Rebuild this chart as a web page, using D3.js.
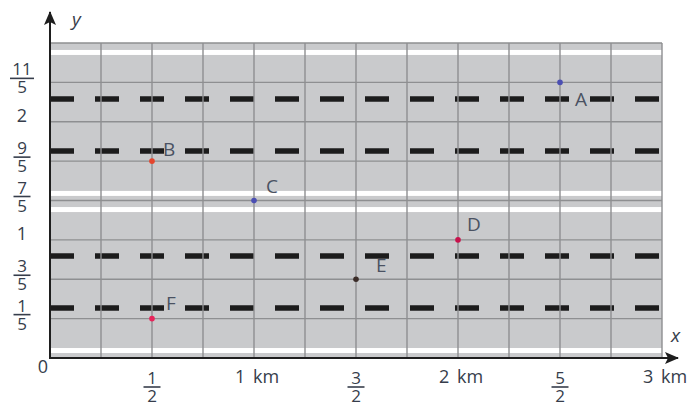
<!DOCTYPE html>
<html>
<head>
<meta charset="utf-8">
<script src="https://cdn.jsdelivr.net/npm/d3@7"></script>
<style>
  body { margin: 0; background: #fff; }
  text { font-family: "Open Sans", sans-serif; }
</style>
</head>
<body>
<div id="chart"></div>
<script>
// tick values and labels
const xTickValues = [0.5, 1, 1.5, 2, 2.5, 3];
const xTickLabels = ["1/2", "1 km", "3/2", "2 km", "5/2", "3 km"];
const yTickValues = [0.2, 0.6, 1, 1.4, 1.8, 2, 2.2];
const yTickLabels = ["1/5", "3/5", "1", "7/5", "9/5", "2", "11/5"];

// points
const pointNames = ["A", "B", "C", "D", "E", "F"];
const pointX = [2.5, 0.5, 1, 2, 1.5, 0.5];
const pointY = [2.2, 1.8, 1.4, 1, 0.6, 0.2];

// road decoration, in grid rows (0 = x axis, 8 = top edge)
const whiteStripeRows = [7.76, 4.18, 3.77, 0.19];
const laneLineRows = [6.58, 5.26, 2.59, 1.27];

let width = 693, height = 408;
let plot = {left: 50, right: 662, top: 43, bottom: 358};
let nRows = 8;

let svg = d3.select("#chart").append("svg")
    .attr("width", width)
    .attr("height", height);

let x = d3.scaleLinear().domain([0, 3]).range([plot.left, plot.right]);
let row = d3.scaleLinear().domain([0, nRows]).range([plot.bottom, plot.top]);
// uneven labels sit on evenly spaced grid lines
let y = d3.scaleLinear()
    .domain([0, ...yTickValues, 2.4])
    .range(d3.range(nRows + 1).map(i => row(i)));

let textColor = "#363d4b";
let gridColor = "#8e8f91";

// grey background
svg.append("rect")
    .attr("x", plot.left).attr("y", plot.top)
    .attr("width", plot.right - plot.left).attr("height", plot.bottom - plot.top)
    .attr("fill", "#c9cacc");

// white road edges
svg.selectAll(".stripe")
    .data(whiteStripeRows)
    .enter().append("rect")
    .attr("class", "stripe")
    .attr("x", plot.left + 1)
    .attr("y", d => row(d) - 2.5)
    .attr("width", plot.right - plot.left - 1)
    .attr("height", 5)
    .attr("fill", "#fff");

// dashed lane lines
svg.selectAll(".lane")
    .data(laneLineRows)
    .enter().append("line")
    .attr("class", "lane")
    .attr("x1", plot.left).attr("x2", plot.right)
    .attr("y1", d => row(d)).attr("y2", d => row(d))
    .attr("stroke", "#1c1c1c")
    .attr("stroke-width", 5.5)
    .attr("stroke-dasharray", "24,21");

// grid
let grid = svg.append("g").attr("stroke", gridColor).attr("stroke-width", 1.4);
grid.selectAll(".vgrid")
    .data(d3.range(1, 13).map(i => i * 0.25))
    .enter().append("line")
    .attr("x1", d => x(d)).attr("x2", d => x(d))
    .attr("y1", plot.top).attr("y2", plot.bottom);
grid.selectAll(".hgrid")
    .data(d3.range(1, nRows + 1))
    .enter().append("line")
    .attr("x1", plot.left).attr("x2", plot.right)
    .attr("y1", d => row(d)).attr("y2", d => row(d));

// axes with arrows
svg.append("defs").append("marker")
    .attr("id", "arrow")
    .attr("viewBox", "0 0 14 12")
    .attr("refX", 13).attr("refY", 6)
    .attr("markerWidth", 14).attr("markerHeight", 12)
    .attr("markerUnits", "userSpaceOnUse")
    .attr("orient", "auto")
    .append("path")
    .attr("d", "M0,0 L14,6 L0,12 L3,6 Z")
    .attr("fill", "#1e1e1e");

svg.append("line")
    .attr("x1", plot.left).attr("y1", plot.bottom)
    .attr("x2", plot.left).attr("y2", 12)
    .attr("stroke", "#1e1e1e").attr("stroke-width", 2)
    .attr("marker-end", "url(#arrow)");
svg.append("line")
    .attr("x1", plot.left - 1).attr("y1", plot.bottom)
    .attr("x2", 678).attr("y2", plot.bottom)
    .attr("stroke", "#1e1e1e").attr("stroke-width", 2)
    .attr("marker-end", "url(#arrow)");

svg.append("text")
    .attr("x", 72).attr("y", 26)
    .attr("font-size", 19).attr("font-style", "italic")
    .attr("fill", textColor)
    .text("y");
svg.append("text")
    .attr("x", 671).attr("y", 342)
    .attr("font-size", 19).attr("font-style", "italic")
    .attr("fill", textColor)
    .text("x");
svg.append("text")
    .attr("x", 43).attr("y", 373)
    .attr("text-anchor", "middle")
    .attr("font-size", 18)
    .attr("fill", textColor)
    .text("0");

// draw a label, as a stacked fraction when it has a slash
function drawLabel(g, label, cx, barY, baseY) {
    if (label.includes("/")) {
        let parts = label.split("/");
        let w = parts[0].length > 1 ? 24 : 17;
        g.append("text")
            .attr("x", cx).attr("y", barY - 3)
            .attr("text-anchor", "middle")
            .attr("font-size", 17).attr("fill", textColor)
            .text(parts[0]);
        g.append("line")
            .attr("x1", cx - w / 2).attr("x2", cx + w / 2)
            .attr("y1", barY).attr("y2", barY)
            .attr("stroke", textColor).attr("stroke-width", 1.6);
        g.append("text")
            .attr("x", cx).attr("y", barY + 15)
            .attr("text-anchor", "middle")
            .attr("font-size", 17).attr("fill", textColor)
            .text(parts[1]);
    } else {
        g.append("text")
            .attr("x", cx).attr("y", baseY)
            .attr("text-anchor", "middle")
            .attr("font-size", 18).attr("fill", textColor)
            .attr("word-spacing", 3)
            .text(label);
    }
}

let xLabels = svg.append("g");
xTickValues.forEach((v, i) => {
    let cx = xTickLabels[i].includes("/") ? x(v) : x(v) + 3;
    drawLabel(xLabels, xTickLabels[i], cx, 387, 383);
});

let yLabels = svg.append("g");
yTickValues.forEach((v, i) => {
    drawLabel(yLabels, yTickLabels[i], 22, y(v) - 4, y(v));
});

// points and their names
let pointColors = ["#4b4fb3", "#e5462e", "#4b4fb3", "#c8124c", "#3b2c28", "#e8235a"];
let labelDx = [15, 11, 12, 9, 20, 14];
let labelDy = [24, -5, -8, -9, -7, -9];

svg.selectAll(".pt")
    .data(pointNames)
    .enter().append("circle")
    .attr("class", "pt")
    .attr("cx", (d, i) => x(pointX[i]))
    .attr("cy", (d, i) => y(pointY[i]))
    .attr("r", 2.8)
    .attr("fill", (d, i) => pointColors[i]);

svg.selectAll(".pt-label")
    .data(pointNames)
    .enter().append("text")
    .attr("class", "pt-label")
    .attr("x", (d, i) => x(pointX[i]) + labelDx[i])
    .attr("y", (d, i) => y(pointY[i]) + labelDy[i])
    .attr("font-size", 19)
    .attr("fill", "#4a5262")
    .text(d => d);
</script>
</body>
</html>
